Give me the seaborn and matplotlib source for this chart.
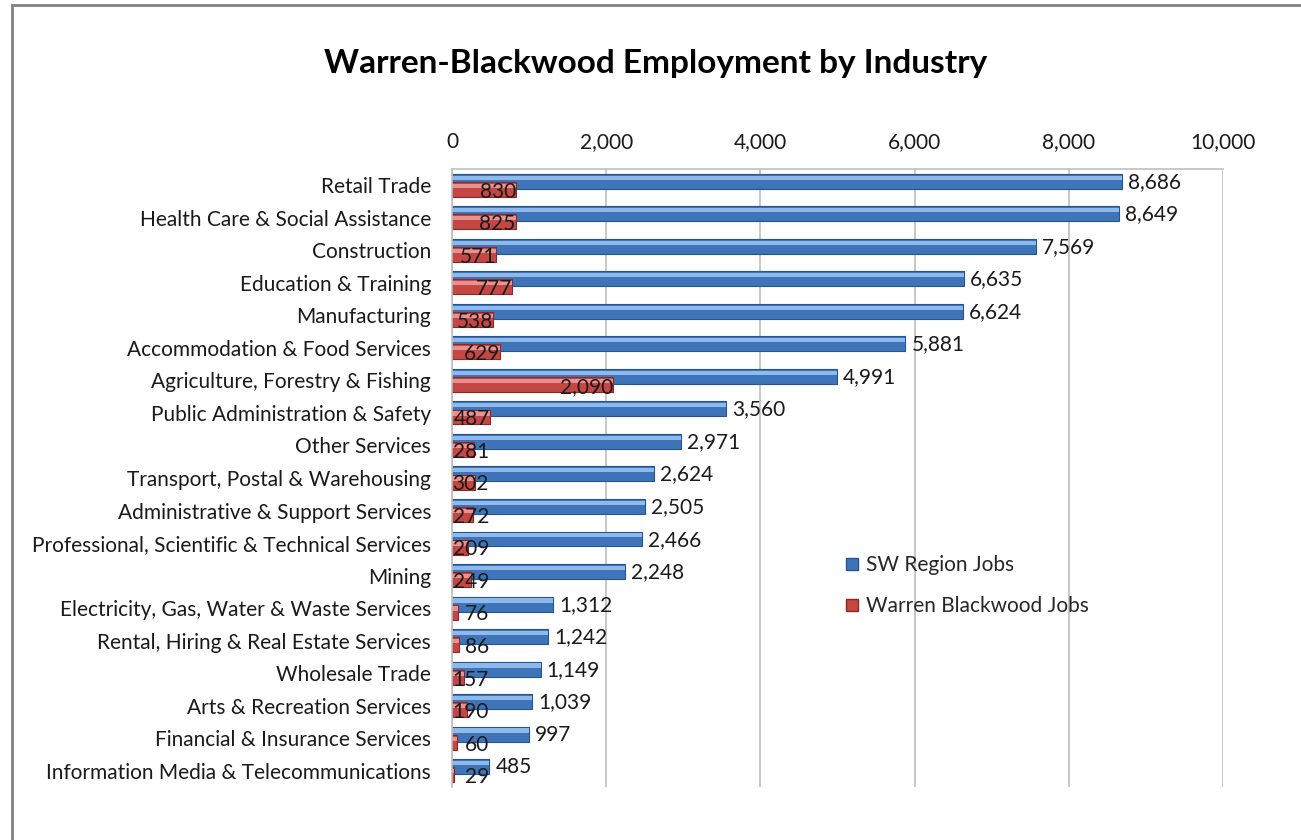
import pandas as pd
import seaborn as sns
import matplotlib.pyplot as plt
from matplotlib.patches import Rectangle, Patch

industries = [
    "Retail Trade",
    "Health Care & Social Assistance",
    "Construction",
    "Education & Training",
    "Manufacturing",
    "Accommodation & Food Services",
    "Agriculture, Forestry & Fishing",
    "Public Administration & Safety",
    "Other Services",
    "Transport, Postal & Warehousing",
    "Administrative & Support Services",
    "Professional, Scientific & Technical Services",
    "Mining",
    "Electricity, Gas, Water & Waste Services",
    "Rental, Hiring & Real Estate Services",
    "Wholesale Trade",
    "Arts & Recreation Services",
    "Financial & Insurance Services",
    "Information Media & Telecommunications",
]
sw_jobs = [8686, 8649, 7569, 6635, 6624, 5881, 4991, 3560, 2971, 2624,
           2505, 2466, 2248, 1312, 1242, 1149, 1039, 997, 485]
wb_jobs = [830, 825, 571, 777, 538, 629, 2090, 487, 281, 302,
           272, 209, 249, 76, 86, 157, 190, 60, 29]

df = pd.DataFrame({"industry": industries, "sw": sw_jobs, "wb": wb_jobs})

sns.set_style("white")
plt.rcParams["font.family"] = ["Lato", "DejaVu Sans"]
fs = 15

fig = plt.figure(figsize=(13.01, 8.4), dpi=100)
ax = fig.add_axes([452 / 1301, 1 - 787 / 840, (1223 - 452) / 1301, (787 - 169) / 840])

bw = 0.46
shift = 0.125

# blue series first, nudged up a bit
sns.barplot(data=df, y="industry", x="sw", orient="h", width=bw,
            color="#3F75B8", saturation=1, edgecolor="#24558F", linewidth=0.8, ax=ax)
n = len(industries)
blue = list(ax.patches)
for p in blue:
    p.set_y(p.get_y() - shift)

# red series on top, nudged down
sns.barplot(data=df, y="industry", x="wb", orient="h", width=bw,
            color="#C44743", saturation=1, edgecolor="#8E2826", linewidth=0.8, ax=ax)
red = list(ax.patches)[n:]
for p in red:
    p.set_y(p.get_y() + shift)

# light stripe for the glossy look
for p, hl in [(b, "#8FB9EA") for b in blue] + [(r, "#E8928F") for r in red]:
    h = p.get_height()
    ax.add_patch(Rectangle((p.get_x(), p.get_y() + h * 0.12), p.get_width(), h * 0.28,
                           facecolor=hl, edgecolor="none", zorder=p.get_zorder() + 0.1))

# value labels
for p, v in zip(blue, sw_jobs):
    ax.text(p.get_width() + 80, p.get_y() + p.get_height() / 2 + 0.02, f"{v:,}",
            ha="left", va="center", fontsize=fs, color="#1a1a1a")
for p, v in zip(red, wb_jobs):
    ax.text(max(v, 480), p.get_y() + p.get_height() / 2 + 0.07, f"{v:,}",
            ha="right", va="center", fontsize=fs, color="#1a1a1a", zorder=5)

ax.set_xlim(0, 10000)
ax.set_ylim(n - 0.5, -0.5)
ax.set_xticks(range(0, 10001, 2000))
ax.set_xticklabels([f"{t:,}" for t in range(0, 10001, 2000)])
ax.xaxis.tick_top()
ax.tick_params(axis="x", length=0, pad=12, labelsize=fs, colors="#1a1a1a")
ax.tick_params(axis="y", length=0, pad=15, labelsize=fs, colors="#1a1a1a")
ax.set_xlabel("")
ax.set_ylabel("")
ax.grid(axis="x", color="#BFBFBF", linewidth=1.2)
ax.set_axisbelow(True)
for s in ["right", "bottom"]:
    ax.spines[s].set_visible(False)
for s in ["top", "left"]:
    ax.spines[s].set_color("#BFBFBF")
    ax.spines[s].set_linewidth(1.2)

fig.text(656 / 1301, 1 - 64 / 840, "Warren-Blackwood Employment by Industry",
         ha="center", va="center", fontsize=24, fontweight="bold", color="#000000")

handles = [Patch(facecolor="#3F75B8", edgecolor="#24558F", label="SW Region Jobs"),
           Patch(facecolor="#C44743", edgecolor="#8E2826", label="Warren Blackwood Jobs")]
fig.legend(handles=handles, loc="upper left", bbox_to_anchor=(838 / 1301, 1 - 547 / 840),
           frameon=False, fontsize=fs, handlelength=0.55, handleheight=0.55,
           handletextpad=0.4, labelspacing=1.0, borderaxespad=0)

# outer frame, cut off at right and bottom
fig.patches.append(Rectangle((12 / 1301, -0.1), 1.2, 1 - 5 / 840 + 0.1,
                             transform=fig.transFigure, fill=False,
                             edgecolor="#808080", linewidth=2))

fig.savefig("out.png", dpi=100)
